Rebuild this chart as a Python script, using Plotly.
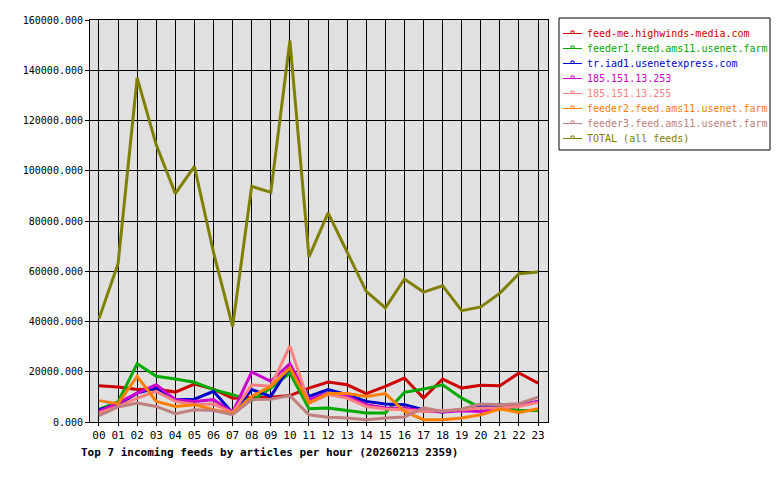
import plotly.graph_objects as go

hours = ["00","01","02","03","04","05","06","07","08","09","10","11",
         "12","13","14","15","16","17","18","19","20","21","22","23"]

feed_me = [14400, 13900, 12900, 13100, 11900, 15100, 13100, 9500, 9800, 9900, 10500, 13500,
           15900, 14800, 11300, 14200, 17500, 9500, 17100, 13500, 14600, 14400, 19500, 15500]
feeder1 = [5000, 8000, 23200, 18200, 17100, 15800, 12900, 10900, 8500, 13500, 19500, 5300,
           5600, 4500, 3600, 3600, 11800, 13100, 14800, 9500, 5600, 6000, 4600, 4600]
tr_iad1 = [4900, 6900, 11500, 13500, 8900, 9100, 12200, 3600, 12900, 10200, 22100, 10200,
           12900, 10900, 8200, 7200, 6900, 4900, 4000, 5000, 6200, 6900, 6500, 8200]
ip_253 = [4200, 7600, 11500, 14800, 8900, 8200, 8900, 3800, 19900, 16200, 23200, 8900,
          11500, 10200, 6900, 5600, 5500, 4500, 4000, 4500, 4200, 5500, 6500, 8200]
ip_255 = [3600, 6200, 9500, 12200, 8200, 6900, 7200, 3600, 14800, 14200, 30300, 7600,
          10900, 9500, 6200, 5200, 4900, 4200, 4600, 4900, 5600, 5600, 6200, 7800]
feeder2 = [8500, 7300, 18200, 8200, 6200, 6900, 4900, 3300, 10200, 14200, 21500, 7600,
           11300, 11300, 10200, 11300, 4200, 900, 900, 1600, 2900, 5200, 3800, 5300]
feeder3 = [2500, 6000, 7600, 6200, 3300, 4900, 4600, 2900, 8900, 9100, 10500, 2900,
           1900, 1600, 900, 1600, 2000, 5600, 4200, 5200, 7200, 6900, 7300, 9900]
total = [41100, 63000, 137000, 110300, 90900, 101700, 67500, 38000, 93800, 91400, 151800, 65700,
         83200, 67300, 52000, 45400, 56900, 51700, 54200, 44300, 45800, 51300, 59000, 59700]

series_names = ["feed-me.highwinds-media.com", "feeder1.feed.ams11.usenet.farm",
                "tr.iad1.usenetexpress.com", "185.151.13.253", "185.151.13.255",
                "feeder2.feed.ams11.usenet.farm", "feeder3.feed.ams11.usenet.farm",
                "TOTAL (all feeds)"]
series_values = [feed_me, feeder1, tr_iad1, ip_253, ip_255, feeder2, feeder3, total]
series_colors = ["#cc0000", "#00aa00", "#0000cc", "#cc00cc", "#ff8080",
                 "#ff8000", "#c08080", "#808000"]

y_ticks = [0, 20000, 40000, 60000, 80000, 100000, 120000, 140000, 160000]
y_labels = ["%.3f" % v for v in y_ticks]

title_text = "Top 7 incoming feeds by articles per hour (20260213 2359)"

# layout geometry (pixels)
W, H = 780, 480
PL, PR, PT, PB = 90, 548, 20, 422
MONO = "DejaVu Sans Mono"

def px_x(px):
    return (px - PL) / (PR - PL)

def px_y(py):
    return (PB - py) / (PB - PT)

fig = go.Figure()
xs = list(range(len(hours)))
# draw smaller series first, total on top of them? reference draws in order
order = [7, 6, 5, 4, 3, 2, 1, 0]
for i in [6, 5, 4, 3, 2, 1, 0, 7]:
    pass
for i in range(len(series_names)):
    fig.add_trace(go.Scatter(
        x=xs, y=series_values[i], name=series_names[i], mode="lines",
        line=dict(color=series_colors[i], width=3), showlegend=False))

shapes = []
annotations = []
# legend box
shapes.append(dict(type="rect", xref="paper", yref="paper",
                   x0=px_x(559), x1=px_x(770), y0=px_y(150), y1=px_y(18),
                   line=dict(color="black", width=1), fillcolor="white", layer="below"))
for k, (nm, col) in enumerate(zip(series_names, series_colors)):
    yc = 33.5 + 15 * k
    shapes.append(dict(type="line", xref="paper", yref="paper",
                       x0=px_x(563), x1=px_x(582), y0=px_y(yc), y1=px_y(yc),
                       line=dict(color=col, width=1)))
    shapes.append(dict(type="rect", xref="paper", yref="paper",
                       x0=px_x(571), x1=px_x(574), y0=px_y(yc), y1=px_y(yc - 2.5),
                       line=dict(color=col, width=1)))
    annotations.append(dict(text=nm, xref="paper", yref="paper",
                            x=px_x(585), y=px_y(yc), xanchor="left", yanchor="middle",
                            showarrow=False, font=dict(family=MONO, size=10, color=col)))

annotations.append(dict(text="<b>" + title_text + "</b>", xref="paper", yref="paper",
                        x=px_x(79), y=px_y(452), xanchor="left", yanchor="middle",
                        showarrow=False, font=dict(family=MONO, size=11, color="black")))

fig.update_layout(
    width=W, height=H,
    margin=dict(l=PL, r=W - PR, t=PT, b=H - PB, pad=0),
    paper_bgcolor="white", plot_bgcolor="#e0e0e0",
    shapes=shapes, annotations=annotations,
    font=dict(family=MONO, size=10, color="black"),
)
fig.update_xaxes(
    range=[-0.47, 23.52], tickvals=xs, ticktext=hours,
    showgrid=True, gridcolor="black", gridwidth=1,
    showline=True, linecolor="black", linewidth=1, mirror=True,
    ticks="outside", ticklen=3, tickcolor="black",
    tickfont=dict(family=MONO, size=11), zeroline=False, fixedrange=True)
fig.update_yaxes(
    range=[0, 160000], tickvals=y_ticks, ticktext=y_labels,
    showgrid=True, gridcolor="black", gridwidth=1,
    showline=True, linecolor="black", linewidth=1, mirror=True,
    ticks="outside", ticklen=4, tickcolor="black",
    tickfont=dict(family=MONO, size=10), zeroline=False, fixedrange=True)

fig.write_html("out.html", config={"displayModeBar": False})
